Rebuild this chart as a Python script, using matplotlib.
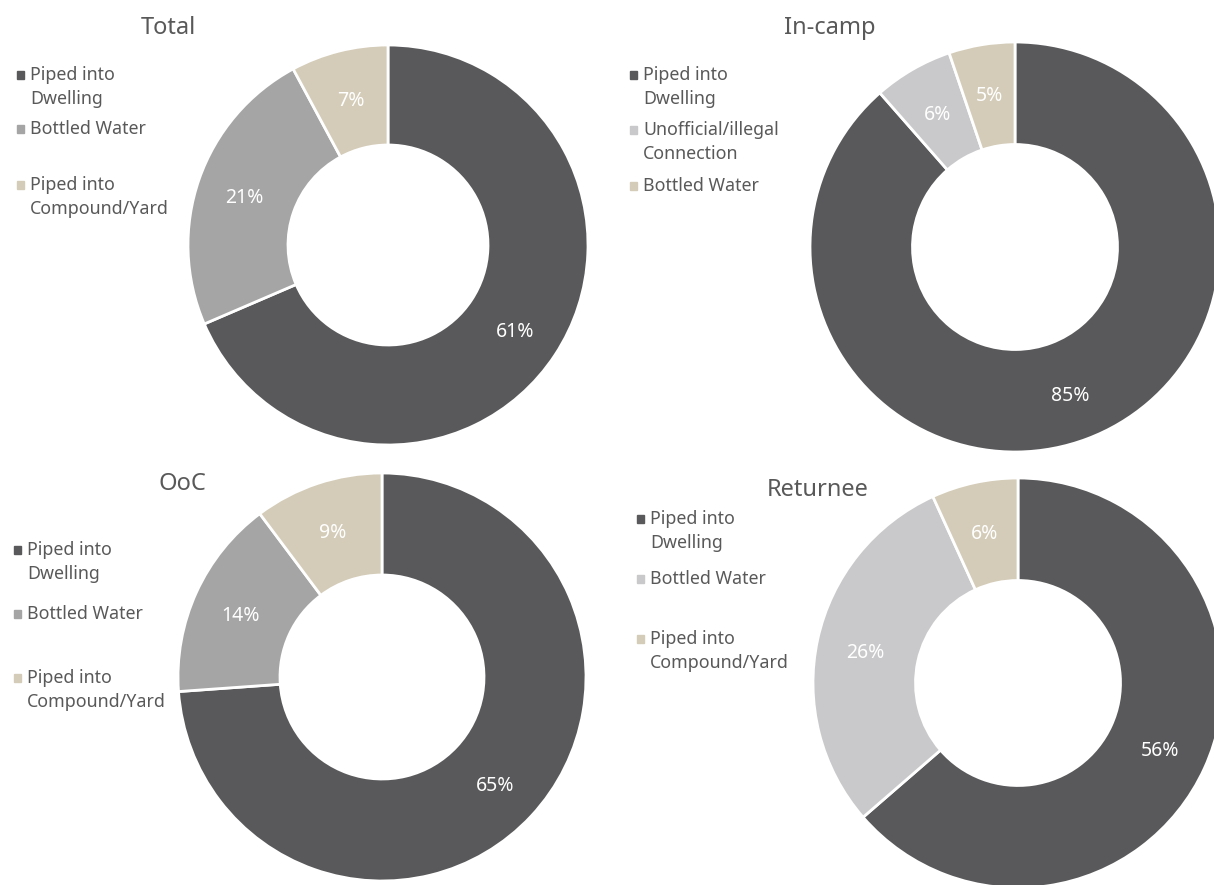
import numpy as np
import matplotlib
matplotlib.use("Agg")
import matplotlib.pyplot as plt
from matplotlib.patches import Rectangle

plt.rcParams['font.family'] = ['Noto Sans', 'DejaVu Sans']

W, H = 1214, 885

DARK = "#59595b"
MID = "#a5a5a5"
LIGHT = "#c9c9cb"
BEIGE = "#d4ccb8"
TEXT = "#595959"

# chart data
total_labels = ["Piped into\nDwelling", "Bottled Water", "Piped into\nCompound/Yard"]
total_values = [61, 21, 7]
incamp_labels = ["Piped into\nDwelling", "Unofficial/illegal\nConnection", "Bottled Water"]
incamp_values = [85, 6, 5]
ooc_labels = ["Piped into\nDwelling", "Bottled Water", "Piped into\nCompound/Yard"]
ooc_values = [65, 14, 9]
returnee_labels = ["Piped into\nDwelling", "Bottled Water", "Piped into\nCompound/Yard"]
returnee_values = [56, 26, 6]

fig = plt.figure(figsize=(W / 100, H / 100), dpi=100)


def fx(x):
    return x / W


def fy(y):
    return 1 - y / H


def donut(cx, cy, r, values, colors):
    ax = fig.add_axes([fx(cx - r), fy(cy + r), 2 * r / W, 2 * r / H])
    wedges, _ = ax.pie(values, colors=colors, startangle=90, counterclock=False,
                       radius=1, wedgeprops=dict(width=0.5, edgecolor="white", linewidth=2))
    for w, v in zip(wedges, values):
        ang = np.deg2rad((w.theta1 + w.theta2) / 2)
        ax.text(0.76 * np.cos(ang), 0.76 * np.sin(ang) - 0.015, f"{v}%", ha="center",
                va="center", color="white", fontsize=14)
    ax.set_xlim(-1, 1)
    ax.set_ylim(-1, 1)
    ax.set_aspect("equal")
    ax.axis("off")


def legend(x, ys, labels, colors):
    for y, lab, c in zip(ys, labels, colors):
        fig.patches.append(Rectangle((fx(x - 3.5), fy(y + 3.5)), 7.5 / W, 7.5 / H, color=c,
                                     transform=fig.transFigure, figure=fig))
        fig.text(fx(x + 10), fy(y - 9), lab, ha="left", va="top", fontsize=12.8,
                 color=TEXT, linespacing=1.42)


def title(x, y, s):
    fig.text(fx(x), fy(y + 3), s, ha="center", va="center", fontsize=17, color=TEXT)


c3 = [DARK, MID, BEIGE]
c3b = [DARK, LIGHT, BEIGE]

donut(388, 245, 200, total_values, c3)
title(168, 25, "Total")
legend(20, [75, 129, 185], total_labels, c3)

donut(1015, 247, 205, incamp_values, c3b)
title(830, 25, "In-camp")
legend(633, [75, 130, 186], incamp_labels, c3b)

donut(382, 677, 204, ooc_values, c3)
title(182, 481, "OoC")
legend(17, [550, 614, 678], ooc_labels, c3)

donut(1018, 683, 205, returnee_values, c3b)
title(818, 487, "Returnee")
legend(640, [519, 579, 639], returnee_labels, c3b)

fig.savefig("out.png", dpi=100)
